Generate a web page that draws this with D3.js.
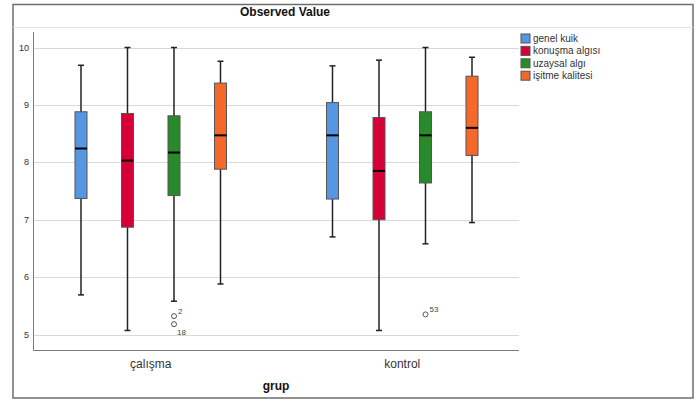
<!DOCTYPE html>
<html>
<head>
<meta charset="utf-8">
<script src="https://cdn.jsdelivr.net/npm/d3@7"></script>
<style>
  body { margin: 0; background: #fff; }
  text { font-family: "Liberation Sans", Arial, sans-serif; }
</style>
</head>
<body>
<div id="chart"></div>
<script>
const groups = ["çalışma", "kontrol"];
const series = ["genel kuik", "konuşma algısı", "uzaysal algı", "işitme kalitesi"];
const seriesColors = ["#5597e3", "#d70036", "#288a28", "#f4692a"];

// per group: one value per series
const whiskerLow  = [[5.69, 5.07, 5.58, 5.88], [6.70, 5.07, 6.58, 6.95]];
const q1          = [[7.37, 6.87, 7.42, 7.88], [7.36, 7.00, 7.64, 8.12]];
const median      = [[8.24, 8.03, 8.17, 8.47], [8.47, 7.85, 8.47, 8.60]];
const q3          = [[8.88, 8.85, 8.81, 9.38], [9.04, 8.78, 8.88, 9.50]];
const whiskerHigh = [[9.69, 10.0, 10.0, 9.76], [9.68, 9.78, 10.0, 9.83]];

const outlierGroup  = ["çalışma", "çalışma", "kontrol"];
const outlierSeries = ["uzaysal algı", "uzaysal algı", "uzaysal algı"];
const outlierValue  = [5.32, 5.18, 5.35];
const outlierLabel  = ["2", "18", "53"];

const yTicks = [5, 6, 7, 8, 9, 10];

const width = 696, height = 401;
const plot = {left: 33, right: 519, top: 32, bottom: 350};

const svg = d3.select("#chart").append("svg")
  .attr("width", width)
  .attr("height", height);

const y = d3.scaleLinear()
  .domain([5, 10])
  .range([334.5, 47.5]);

const x = d3.scaleBand()
  .domain(groups)
  .range([25, 528]);

const xInner = d3.scalePoint()
  .domain(series)
  .range([56, 195.5]);

const boxWidth = 12;
const capWidth = 6;

// frame
svg.append("rect")
  .attr("x", 13).attr("y", 4.5)
  .attr("width", 680).attr("height", 393.5)
  .attr("fill", "none")
  .attr("stroke", "#6e6e6e")
  .attr("stroke-width", 1.5);

svg.append("line")
  .attr("x1", 13).attr("x2", 693)
  .attr("y1", 27.5).attr("y2", 27.5)
  .attr("stroke", "#e2e2e2");

svg.append("text")
  .attr("x", 285).attr("y", 16)
  .attr("text-anchor", "middle")
  .style("font", "bold 12px 'Liberation Sans', Arial, sans-serif")
  .attr("fill", "#111")
  .text("Observed Value");

// gridlines
svg.append("g").selectAll("line")
  .data(yTicks).enter()
  .append("line")
  .attr("x1", plot.left).attr("x2", plot.right)
  .attr("y1", d => Math.round(y(d)) + 0.5)
  .attr("y2", d => Math.round(y(d)) + 0.5)
  .attr("stroke", "#d9d9d9");

// y axis labels
svg.append("g").selectAll("text")
  .data(yTicks).enter()
  .append("text")
  .attr("x", 29)
  .attr("y", d => y(d) + 3)
  .attr("text-anchor", "end")
  .style("font-size", "9px")
  .attr("fill", "#333")
  .text(d => d);

// axes lines
svg.append("path")
  .attr("d", `M${plot.left + 0.5},${plot.top}V${plot.bottom + 0.5}H${plot.right}`)
  .attr("fill", "none")
  .attr("stroke", "#7a7a7a");

// boxes
const rows = [];
groups.forEach((g, gi) => {
  series.forEach((s, si) => {
    rows.push({
      group: g, series: s, color: seriesColors[si],
      lo: whiskerLow[gi][si], q1: q1[gi][si], med: median[gi][si],
      q3: q3[gi][si], hi: whiskerHigh[gi][si]
    });
  });
});

const cx = row => x(row.group) + xInner(row.series);

const boxes = svg.append("g").selectAll("g.box")
  .data(rows).enter()
  .append("g")
  .classed("box", true);

boxes.append("line")
  .attr("x1", cx).attr("x2", cx)
  .attr("y1", row => y(row.hi)).attr("y2", row => y(row.lo))
  .attr("stroke", "#222")
  .attr("stroke-width", 1.5);

boxes.append("line")
  .attr("x1", row => cx(row) - capWidth / 2).attr("x2", row => cx(row) + capWidth / 2)
  .attr("y1", row => y(row.hi)).attr("y2", row => y(row.hi))
  .attr("stroke", "#222")
  .attr("stroke-width", 1.5);

boxes.append("line")
  .attr("x1", row => cx(row) - capWidth / 2).attr("x2", row => cx(row) + capWidth / 2)
  .attr("y1", row => y(row.lo)).attr("y2", row => y(row.lo))
  .attr("stroke", "#222")
  .attr("stroke-width", 1.5);

boxes.append("rect")
  .attr("x", row => cx(row) - boxWidth / 2)
  .attr("y", row => y(row.q3))
  .attr("width", boxWidth)
  .attr("height", row => y(row.q1) - y(row.q3))
  .attr("fill", row => row.color)
  .attr("stroke", "#555")
  .attr("stroke-width", 1);

boxes.append("line")
  .attr("x1", row => cx(row) - boxWidth / 2).attr("x2", row => cx(row) + boxWidth / 2)
  .attr("y1", row => y(row.med)).attr("y2", row => y(row.med))
  .attr("stroke", "#000")
  .attr("stroke-width", 2);

// outliers
const outliers = outlierValue.map((v, i) => ({
  group: outlierGroup[i], series: outlierSeries[i], value: v, label: outlierLabel[i]
}));

svg.append("g").selectAll("circle")
  .data(outliers).enter()
  .append("circle")
  .attr("cx", cx)
  .attr("cy", d => y(d.value))
  .attr("r", 2.5)
  .attr("fill", "none")
  .attr("stroke", "#555")
  .attr("stroke-width", 1);

svg.append("g").selectAll("text")
  .data(outliers).enter()
  .append("text")
  .attr("x", (d, i) => cx(d) + (i === 1 ? 3 : 4))
  .attr("y", (d, i) => y(d.value) + (i === 1 ? 11 : -2))
  .style("font-size", "8px")
  .attr("fill", "#444")
  .text(d => d.label);

// x labels
svg.append("g").selectAll("text")
  .data(groups).enter()
  .append("text")
  .attr("x", g => x(g) + x.bandwidth() / 2)
  .attr("y", 368)
  .attr("text-anchor", "middle")
  .style("font-size", "12px")
  .attr("fill", "#333")
  .text(g => g);

svg.append("text")
  .attr("x", (plot.left + plot.right) / 2)
  .attr("y", 390)
  .attr("text-anchor", "middle")
  .style("font", "bold 12px 'Liberation Sans', Arial, sans-serif")
  .attr("fill", "#111")
  .text("grup");

// legend
const legend = svg.append("g").selectAll("g")
  .data(series).enter()
  .append("g")
  .attr("transform", (s, i) => `translate(521, ${34 + i * 12.4})`);

legend.append("rect")
  .attr("width", 9).attr("height", 9)
  .attr("fill", (s, i) => seriesColors[i])
  .attr("stroke", "#555");

legend.append("text")
  .attr("x", 12).attr("y", 8)
  .style("font-size", "10px")
  .attr("fill", "#333")
  .text(s => s);
</script>
</body>
</html>
